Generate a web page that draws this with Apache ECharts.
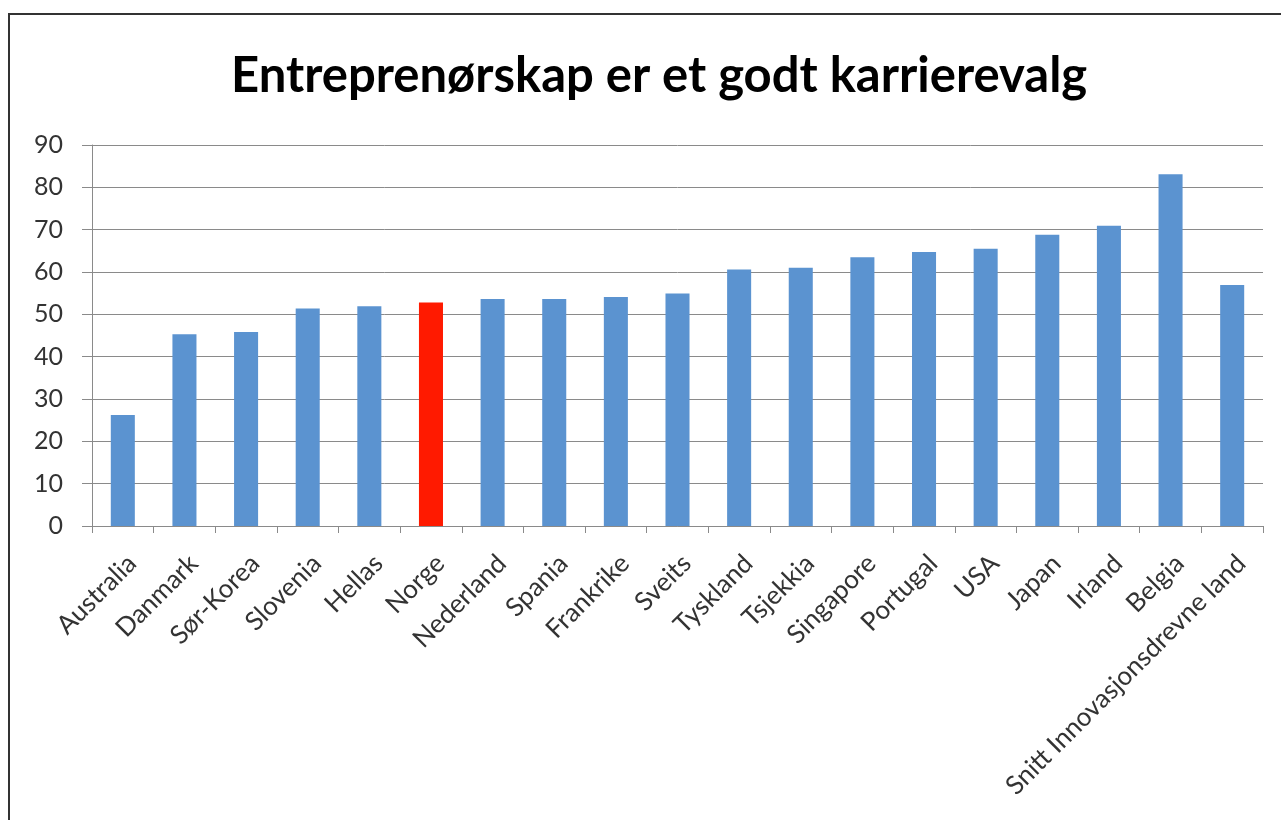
<!DOCTYPE html>
<html>
<head>
<meta charset="utf-8">
<script src="https://cdn.jsdelivr.net/npm/echarts@6/dist/echarts.min.js"></script>
<style>
  html, body { margin: 0; padding: 0; background: #fff; }
  #frame {
    position: absolute;
    left: 8px;
    top: 13px;
    width: 1273px;
    height: 807px;
    border-top: 2px solid #333;
    border-left: 2px solid #333;
    box-sizing: border-box;
    pointer-events: none;
    z-index: 2;
  }
  #myChart { width: 1281px; height: 820px; }
</style>
</head>
<body>
<div id="frame"></div>
<div id="myChart"></div>
<script>
// land og andel som svarer ja
const countries = [
  "Australia", "Danmark", "Sør-Korea", "Slovenia", "Hellas", "Norge",
  "Nederland", "Spania", "Frankrike", "Sveits", "Tyskland", "Tsjekkia",
  "Singapore", "Portugal", "USA", "Japan", "Irland", "Belgia",
  "Snitt Innovasjonsdrevne land"
];
const values = [
  26.2, 45.3, 45.8, 51.4, 51.9, 52.8, 53.6, 53.6, 54.1, 54.9, 60.6, 61.0,
  63.5, 64.7, 65.5, 68.8, 70.9, 83.1, 56.9
];
const highlight = "Norge";

const chart = echarts.init(document.getElementById("myChart"));
const font = "Lato, 'Open Sans', sans-serif";

const option = {
  animation: false,
  title: {
    text: "Entreprenørskap er et godt karrierevalg",
    left: 226,
    top: 47,
    textStyle: {
      fontFamily: font,
      fontSize: 49,
      fontWeight: "bold",
      color: "#000",
    },
  },
  grid: {
    left: 92,
    right: 18,
    top: 145,
    bottom: 294,
  },
  xAxis: {
    type: "category",
    data: countries,
    axisLine: { lineStyle: { color: "#8a8a8a", width: 1 } },
    axisTick: { show: true, length: 7, lineStyle: { color: "#8a8a8a" } },
    axisLabel: {
      interval: 0,
      rotate: 45,
      margin: 24,
      align: "right",
      verticalAlign: "top",
      fontFamily: font,
      fontSize: 26,
      color: "#333",
    },
  },
  yAxis: {
    type: "value",
    min: 0,
    max: 90,
    interval: 10,
    axisLine: { show: true, lineStyle: { color: "#8a8a8a", width: 1 } },
    axisTick: { show: true, inside: false, length: 10, lineStyle: { color: "#8a8a8a" } },
    splitLine: { lineStyle: { color: "#8a8a8a", width: 1 } },
    axisLabel: {
      margin: 29,
      padding: [8, 0, 0, 0],
      fontFamily: font,
      fontSize: 25,
      color: "#333",
    },
  },
  series: [
    {
      type: "bar",
      barWidth: "39%",
      data: countries.map((c, i) => ({
        value: values[i],
        itemStyle: { color: c === highlight ? "#ff1a00" : "#5b93d0" },
      })),
    },
  ],
};
chart.setOption(option);
</script>
</body>
</html>
